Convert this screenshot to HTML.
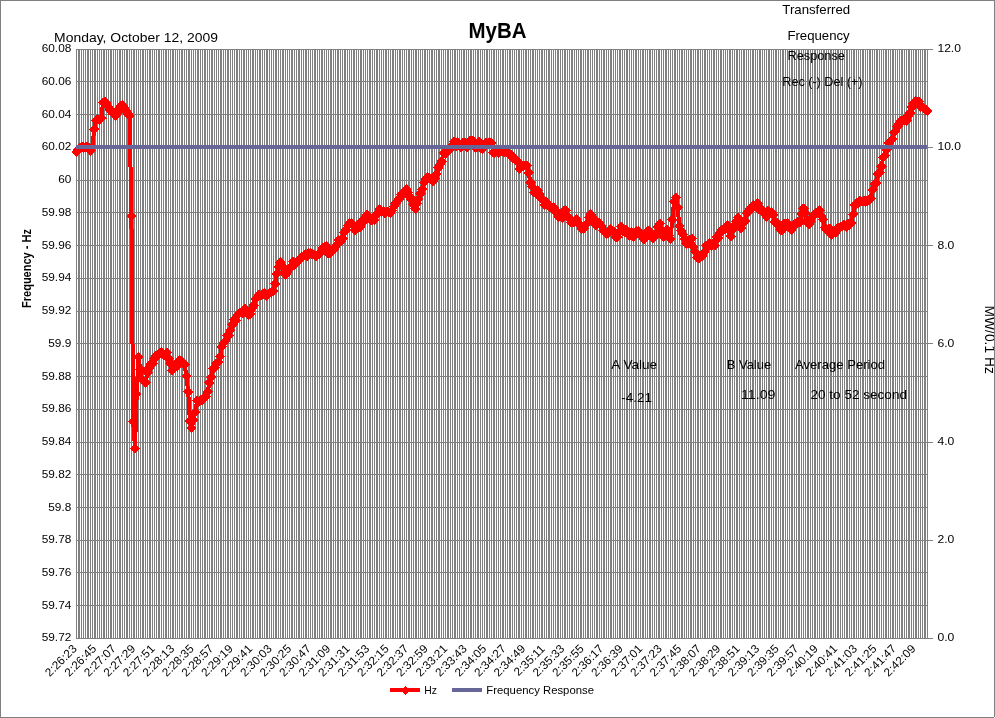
<!DOCTYPE html>
<html><head><meta charset="utf-8"><title>MyBA</title>
<style>html,body{margin:0;padding:0;background:#fff;overflow:hidden}body{width:995px;height:718px;position:relative;font-family:"Liberation Sans",sans-serif}</style>
</head><body>
<svg width="995" height="718" viewBox="0 0 995 718" style="position:absolute;left:0;top:0;will-change:transform">
<rect x="0" y="0" width="995" height="718" fill="#fff"/>
<path d="M76 49h1v589h-1zM78 49h1v589h-1zM79 49h1v589h-1zM81 49h1v589h-1zM83 49h1v589h-1zM85 49h1v589h-1zM87 49h1v589h-1zM88 49h1v589h-1zM90 49h1v589h-1zM92 49h1v589h-1zM94 49h1v589h-1zM95 49h1v589h-1zM97 49h1v589h-1zM99 49h1v589h-1zM101 49h1v589h-1zM103 49h1v589h-1zM104 49h1v589h-1zM106 49h1v589h-1zM108 49h1v589h-1zM110 49h1v589h-1zM111 49h1v589h-1zM113 49h1v589h-1zM115 49h1v589h-1zM117 49h1v589h-1zM119 49h1v589h-1zM120 49h1v589h-1zM122 49h1v589h-1zM124 49h1v589h-1zM126 49h1v589h-1zM127 49h1v589h-1zM129 49h1v589h-1zM131 49h1v589h-1zM133 49h1v589h-1zM134 49h1v589h-1zM136 49h1v589h-1zM138 49h1v589h-1zM140 49h1v589h-1zM142 49h1v589h-1zM143 49h1v589h-1zM145 49h1v589h-1zM147 49h1v589h-1zM149 49h1v589h-1zM150 49h1v589h-1zM152 49h1v589h-1zM154 49h1v589h-1zM156 49h1v589h-1zM158 49h1v589h-1zM159 49h1v589h-1zM161 49h1v589h-1zM163 49h1v589h-1zM165 49h1v589h-1zM166 49h1v589h-1zM168 49h1v589h-1zM170 49h1v589h-1zM172 49h1v589h-1zM173 49h1v589h-1zM175 49h1v589h-1zM177 49h1v589h-1zM179 49h1v589h-1zM181 49h1v589h-1zM182 49h1v589h-1zM184 49h1v589h-1zM186 49h1v589h-1zM188 49h1v589h-1zM189 49h1v589h-1zM191 49h1v589h-1zM193 49h1v589h-1zM195 49h1v589h-1zM197 49h1v589h-1zM198 49h1v589h-1zM200 49h1v589h-1zM202 49h1v589h-1zM204 49h1v589h-1zM205 49h1v589h-1zM207 49h1v589h-1zM209 49h1v589h-1zM211 49h1v589h-1zM212 49h1v589h-1zM214 49h1v589h-1zM216 49h1v589h-1zM218 49h1v589h-1zM220 49h1v589h-1zM221 49h1v589h-1zM223 49h1v589h-1zM225 49h1v589h-1zM227 49h1v589h-1zM228 49h1v589h-1zM230 49h1v589h-1zM232 49h1v589h-1zM234 49h1v589h-1zM236 49h1v589h-1zM237 49h1v589h-1zM239 49h1v589h-1zM241 49h1v589h-1zM243 49h1v589h-1zM244 49h1v589h-1zM246 49h1v589h-1zM248 49h1v589h-1zM250 49h1v589h-1zM252 49h1v589h-1zM253 49h1v589h-1zM255 49h1v589h-1zM257 49h1v589h-1zM259 49h1v589h-1zM260 49h1v589h-1zM262 49h1v589h-1zM264 49h1v589h-1zM266 49h1v589h-1zM267 49h1v589h-1zM269 49h1v589h-1zM271 49h1v589h-1zM273 49h1v589h-1zM275 49h1v589h-1zM276 49h1v589h-1zM278 49h1v589h-1zM280 49h1v589h-1zM282 49h1v589h-1zM283 49h1v589h-1zM285 49h1v589h-1zM287 49h1v589h-1zM289 49h1v589h-1zM291 49h1v589h-1zM292 49h1v589h-1zM294 49h1v589h-1zM296 49h1v589h-1zM298 49h1v589h-1zM299 49h1v589h-1zM301 49h1v589h-1zM303 49h1v589h-1zM305 49h1v589h-1zM306 49h1v589h-1zM308 49h1v589h-1zM310 49h1v589h-1zM312 49h1v589h-1zM314 49h1v589h-1zM315 49h1v589h-1zM317 49h1v589h-1zM319 49h1v589h-1zM321 49h1v589h-1zM322 49h1v589h-1zM324 49h1v589h-1zM326 49h1v589h-1zM328 49h1v589h-1zM330 49h1v589h-1zM331 49h1v589h-1zM333 49h1v589h-1zM335 49h1v589h-1zM337 49h1v589h-1zM338 49h1v589h-1zM340 49h1v589h-1zM342 49h1v589h-1zM344 49h1v589h-1zM345 49h1v589h-1zM347 49h1v589h-1zM349 49h1v589h-1zM351 49h1v589h-1zM353 49h1v589h-1zM354 49h1v589h-1zM356 49h1v589h-1zM358 49h1v589h-1zM360 49h1v589h-1zM361 49h1v589h-1zM363 49h1v589h-1zM365 49h1v589h-1zM367 49h1v589h-1zM369 49h1v589h-1zM370 49h1v589h-1zM372 49h1v589h-1zM374 49h1v589h-1zM376 49h1v589h-1zM377 49h1v589h-1zM379 49h1v589h-1zM381 49h1v589h-1zM383 49h1v589h-1zM385 49h1v589h-1zM386 49h1v589h-1zM388 49h1v589h-1zM390 49h1v589h-1zM392 49h1v589h-1zM393 49h1v589h-1zM395 49h1v589h-1zM397 49h1v589h-1zM399 49h1v589h-1zM400 49h1v589h-1zM402 49h1v589h-1zM404 49h1v589h-1zM406 49h1v589h-1zM408 49h1v589h-1zM409 49h1v589h-1zM411 49h1v589h-1zM413 49h1v589h-1zM415 49h1v589h-1zM416 49h1v589h-1zM418 49h1v589h-1zM420 49h1v589h-1zM422 49h1v589h-1zM424 49h1v589h-1zM425 49h1v589h-1zM427 49h1v589h-1zM429 49h1v589h-1zM431 49h1v589h-1zM432 49h1v589h-1zM434 49h1v589h-1zM436 49h1v589h-1zM438 49h1v589h-1zM439 49h1v589h-1zM441 49h1v589h-1zM443 49h1v589h-1zM445 49h1v589h-1zM447 49h1v589h-1zM448 49h1v589h-1zM450 49h1v589h-1zM452 49h1v589h-1zM454 49h1v589h-1zM455 49h1v589h-1zM457 49h1v589h-1zM459 49h1v589h-1zM461 49h1v589h-1zM463 49h1v589h-1zM464 49h1v589h-1zM466 49h1v589h-1zM468 49h1v589h-1zM470 49h1v589h-1zM471 49h1v589h-1zM473 49h1v589h-1zM475 49h1v589h-1zM477 49h1v589h-1zM478 49h1v589h-1zM480 49h1v589h-1zM482 49h1v589h-1zM484 49h1v589h-1zM486 49h1v589h-1zM487 49h1v589h-1zM489 49h1v589h-1zM491 49h1v589h-1zM493 49h1v589h-1zM494 49h1v589h-1zM496 49h1v589h-1zM498 49h1v589h-1zM500 49h1v589h-1zM502 49h1v589h-1zM503 49h1v589h-1zM505 49h1v589h-1zM507 49h1v589h-1zM509 49h1v589h-1zM510 49h1v589h-1zM512 49h1v589h-1zM514 49h1v589h-1zM516 49h1v589h-1zM518 49h1v589h-1zM519 49h1v589h-1zM521 49h1v589h-1zM523 49h1v589h-1zM525 49h1v589h-1zM526 49h1v589h-1zM528 49h1v589h-1zM530 49h1v589h-1zM532 49h1v589h-1zM533 49h1v589h-1zM535 49h1v589h-1zM537 49h1v589h-1zM539 49h1v589h-1zM541 49h1v589h-1zM542 49h1v589h-1zM544 49h1v589h-1zM546 49h1v589h-1zM548 49h1v589h-1zM549 49h1v589h-1zM551 49h1v589h-1zM553 49h1v589h-1zM555 49h1v589h-1zM557 49h1v589h-1zM558 49h1v589h-1zM560 49h1v589h-1zM562 49h1v589h-1zM564 49h1v589h-1zM565 49h1v589h-1zM567 49h1v589h-1zM569 49h1v589h-1zM571 49h1v589h-1zM572 49h1v589h-1zM574 49h1v589h-1zM576 49h1v589h-1zM578 49h1v589h-1zM580 49h1v589h-1zM581 49h1v589h-1zM583 49h1v589h-1zM585 49h1v589h-1zM587 49h1v589h-1zM588 49h1v589h-1zM590 49h1v589h-1zM592 49h1v589h-1zM594 49h1v589h-1zM596 49h1v589h-1zM597 49h1v589h-1zM599 49h1v589h-1zM601 49h1v589h-1zM603 49h1v589h-1zM604 49h1v589h-1zM606 49h1v589h-1zM608 49h1v589h-1zM610 49h1v589h-1zM611 49h1v589h-1zM613 49h1v589h-1zM615 49h1v589h-1zM617 49h1v589h-1zM619 49h1v589h-1zM620 49h1v589h-1zM622 49h1v589h-1zM624 49h1v589h-1zM626 49h1v589h-1zM627 49h1v589h-1zM629 49h1v589h-1zM631 49h1v589h-1zM633 49h1v589h-1zM635 49h1v589h-1zM636 49h1v589h-1zM638 49h1v589h-1zM640 49h1v589h-1zM642 49h1v589h-1zM643 49h1v589h-1zM645 49h1v589h-1zM647 49h1v589h-1zM649 49h1v589h-1zM650 49h1v589h-1zM652 49h1v589h-1zM654 49h1v589h-1zM656 49h1v589h-1zM658 49h1v589h-1zM659 49h1v589h-1zM661 49h1v589h-1zM663 49h1v589h-1zM665 49h1v589h-1zM666 49h1v589h-1zM668 49h1v589h-1zM670 49h1v589h-1zM672 49h1v589h-1zM674 49h1v589h-1zM675 49h1v589h-1zM677 49h1v589h-1zM679 49h1v589h-1zM681 49h1v589h-1zM682 49h1v589h-1zM684 49h1v589h-1zM686 49h1v589h-1zM688 49h1v589h-1zM690 49h1v589h-1zM691 49h1v589h-1zM693 49h1v589h-1zM695 49h1v589h-1zM697 49h1v589h-1zM698 49h1v589h-1zM700 49h1v589h-1zM702 49h1v589h-1zM704 49h1v589h-1zM705 49h1v589h-1zM707 49h1v589h-1zM709 49h1v589h-1zM711 49h1v589h-1zM713 49h1v589h-1zM714 49h1v589h-1zM716 49h1v589h-1zM718 49h1v589h-1zM720 49h1v589h-1zM721 49h1v589h-1zM723 49h1v589h-1zM725 49h1v589h-1zM727 49h1v589h-1zM729 49h1v589h-1zM730 49h1v589h-1zM732 49h1v589h-1zM734 49h1v589h-1zM736 49h1v589h-1zM737 49h1v589h-1zM739 49h1v589h-1zM741 49h1v589h-1zM743 49h1v589h-1zM744 49h1v589h-1zM746 49h1v589h-1zM748 49h1v589h-1zM750 49h1v589h-1zM752 49h1v589h-1zM753 49h1v589h-1zM755 49h1v589h-1zM757 49h1v589h-1zM759 49h1v589h-1zM760 49h1v589h-1zM762 49h1v589h-1zM764 49h1v589h-1zM766 49h1v589h-1zM768 49h1v589h-1zM769 49h1v589h-1zM771 49h1v589h-1zM773 49h1v589h-1zM775 49h1v589h-1zM776 49h1v589h-1zM778 49h1v589h-1zM780 49h1v589h-1zM782 49h1v589h-1zM783 49h1v589h-1zM785 49h1v589h-1zM787 49h1v589h-1zM789 49h1v589h-1zM791 49h1v589h-1zM792 49h1v589h-1zM794 49h1v589h-1zM796 49h1v589h-1zM798 49h1v589h-1zM799 49h1v589h-1zM801 49h1v589h-1zM803 49h1v589h-1zM805 49h1v589h-1zM807 49h1v589h-1zM808 49h1v589h-1zM810 49h1v589h-1zM812 49h1v589h-1zM814 49h1v589h-1zM815 49h1v589h-1zM817 49h1v589h-1zM819 49h1v589h-1zM821 49h1v589h-1zM823 49h1v589h-1zM824 49h1v589h-1zM826 49h1v589h-1zM828 49h1v589h-1zM830 49h1v589h-1zM831 49h1v589h-1zM833 49h1v589h-1zM835 49h1v589h-1zM837 49h1v589h-1zM838 49h1v589h-1zM840 49h1v589h-1zM842 49h1v589h-1zM844 49h1v589h-1zM846 49h1v589h-1zM847 49h1v589h-1zM849 49h1v589h-1zM851 49h1v589h-1zM853 49h1v589h-1zM854 49h1v589h-1zM856 49h1v589h-1zM858 49h1v589h-1zM860 49h1v589h-1zM862 49h1v589h-1zM863 49h1v589h-1zM865 49h1v589h-1zM867 49h1v589h-1zM869 49h1v589h-1zM870 49h1v589h-1zM872 49h1v589h-1zM874 49h1v589h-1zM876 49h1v589h-1zM877 49h1v589h-1zM879 49h1v589h-1zM881 49h1v589h-1zM883 49h1v589h-1zM885 49h1v589h-1zM886 49h1v589h-1zM888 49h1v589h-1zM890 49h1v589h-1zM892 49h1v589h-1zM893 49h1v589h-1zM895 49h1v589h-1zM897 49h1v589h-1zM899 49h1v589h-1zM901 49h1v589h-1zM902 49h1v589h-1zM904 49h1v589h-1zM906 49h1v589h-1zM908 49h1v589h-1zM909 49h1v589h-1zM911 49h1v589h-1zM913 49h1v589h-1zM915 49h1v589h-1zM916 49h1v589h-1zM918 49h1v589h-1zM920 49h1v589h-1zM922 49h1v589h-1zM924 49h1v589h-1zM925 49h1v589h-1zM927 49h1v589h-1z" fill="#808080" shape-rendering="crispEdges"/>
<path d="M76 49h852v1h-852zM76 81h852v1h-852zM76 114h852v1h-852zM76 147h852v1h-852zM76 180h852v1h-852zM76 212h852v1h-852zM76 245h852v1h-852zM76 278h852v1h-852zM76 311h852v1h-852zM76 343h852v1h-852zM76 376h852v1h-852zM76 409h852v1h-852zM76 442h852v1h-852zM76 474h852v1h-852zM76 507h852v1h-852zM76 540h852v1h-852zM76 572h852v1h-852zM76 605h852v1h-852zM76 638h852v1h-852z" fill="#808080" shape-rendering="crispEdges"/>
<path d="M928 49h5v1h-5zM928 147h5v1h-5zM928 245h5v1h-5zM928 343h5v1h-5zM928 442h5v1h-5zM928 540h5v1h-5zM928 638h5v1h-5z" fill="#808080" shape-rendering="crispEdges"/>
<polyline points="76.5,152.0 78.2,150.0 80.0,147.5 81.8,146.8 83.5,147.5 85.3,147.5 87.1,147.0 88.9,148.0 90.6,150.6 92.4,147.0 94.2,129.4 96.0,120.5 97.7,119.5 99.5,120.0 101.3,118.5 103.0,102.5 104.8,101.5 106.6,103.0 108.4,107.0 110.1,110.0 111.9,112.5 113.7,114.5 115.5,115.5 117.2,113.0 119.0,109.0 120.8,106.0 122.6,105.5 124.3,108.0 126.1,111.0 127.9,114.0 129.6,116.0 131.4,216.0 133.2,422.0 135.0,448.5 136.7,394.0 138.5,357.0 140.3,369.5 142.1,379.7 143.8,381.3 145.6,382.7 147.4,372.5 149.2,367.7 150.9,363.9 152.7,363.3 154.5,358.6 156.2,355.6 158.0,355.3 159.8,352.7 161.6,351.9 163.3,354.7 165.1,354.6 166.9,352.5 168.7,358.8 170.4,363.4 172.2,370.5 174.0,368.6 175.8,364.2 177.5,366.3 179.3,360.2 181.1,360.5 182.8,362.7 184.6,364.6 186.4,376.2 188.2,391.7 189.9,421.2 191.7,428.1 193.5,420.2 195.3,412.2 197.0,400.4 198.8,401.7 200.6,400.3 202.4,399.5 204.1,398.1 205.9,396.9 207.7,391.6 209.4,382.7 211.2,377.1 213.0,368.3 214.8,367.9 216.5,363.7 218.3,362.1 220.1,356.6 221.9,346.9 223.6,342.7 225.4,341.4 227.2,335.3 229.0,335.3 230.7,330.1 232.5,324.7 234.3,319.3 236.0,320.6 237.8,314.6 239.6,313.1 241.4,312.4 243.1,313.6 244.9,308.7 246.7,312.5 248.5,314.7 250.2,313.9 252.0,308.8 253.8,305.4 255.6,298.8 257.3,297.4 259.1,294.9 260.9,295.7 262.6,294.3 264.4,293.0 266.2,295.8 268.0,294.4 269.7,292.6 271.5,292.3 273.3,291.1 275.1,283.9 276.8,273.7 278.6,266.8 280.4,262.3 282.2,266.4 283.9,272.5 285.7,274.7 287.5,271.9 289.2,269.5 291.0,266.8 292.8,261.5 294.6,264.7 296.3,262.4 298.1,261.4 299.9,259.6 301.7,256.8 303.4,256.4 305.2,254.3 307.0,256.7 308.8,253.1 310.5,253.2 312.3,254.5 314.1,254.8 315.8,256.3 317.6,255.2 319.4,253.8 321.2,251.5 322.9,248.2 324.7,246.7 326.5,246.3 328.3,253.4 330.0,253.7 331.8,251.6 333.6,249.4 335.4,247.2 337.1,244.4 338.9,240.2 340.7,241.2 342.4,238.5 344.2,232.2 346.0,230.0 347.8,225.5 349.5,223.3 351.3,223.1 353.1,225.1 354.9,230.6 356.6,226.4 358.4,223.9 360.2,227.3 362.0,223.2 363.7,219.2 365.5,219.6 367.3,214.9 369.0,217.3 370.8,220.3 372.6,220.1 374.4,219.7 376.1,214.8 377.9,212.9 379.7,209.3 381.5,211.5 383.2,211.2 385.0,213.6 386.8,211.9 388.6,212.2 390.3,213.1 392.1,210.5 393.9,206.6 395.6,203.5 397.4,201.0 399.2,198.9 401.0,194.4 402.7,194.5 404.5,192.0 406.3,189.3 408.1,192.4 409.8,196.8 411.6,199.6 413.4,204.8 415.2,209.0 416.9,203.7 418.7,199.0 420.5,193.4 422.2,189.2 424.0,182.7 425.8,179.1 427.6,177.6 429.3,178.3 431.1,179.2 432.9,181.1 434.7,178.5 436.4,174.1 438.2,168.0 440.0,164.8 441.7,161.4 443.5,153.2 445.3,153.6 447.1,152.6 448.8,149.5 450.6,148.5 452.4,145.2 454.2,141.8 455.9,146.5 457.7,142.3 459.5,146.0 461.3,147.5 463.0,142.6 464.8,142.7 466.6,147.3 468.3,145.4 470.1,140.7 471.9,140.5 473.7,141.0 475.4,147.6 477.2,147.1 479.0,141.9 480.8,147.7 482.5,148.7 484.3,145.8 486.1,143.0 487.9,144.5 489.6,142.0 491.4,143.0 493.2,152.3 494.9,152.8 496.7,151.2 498.5,152.8 500.3,149.6 502.0,151.7 503.8,152.5 505.6,150.6 507.4,152.4 509.1,154.1 510.9,155.1 512.7,158.4 514.5,157.9 516.2,160.8 518.0,161.8 519.8,168.8 521.5,166.7 523.3,166.2 525.1,165.6 526.9,165.9 528.6,172.7 530.4,182.5 532.2,187.0 534.0,192.7 535.7,192.9 537.5,190.4 539.3,194.1 541.1,198.1 542.8,199.4 544.6,204.8 546.4,202.3 548.1,204.9 549.9,207.5 551.7,207.7 553.5,207.6 555.2,210.1 557.0,213.0 558.8,217.0 560.6,215.9 562.3,217.6 564.1,210.7 565.9,210.2 567.7,216.8 569.4,218.7 571.2,222.3 573.0,222.5 574.7,222.0 576.5,219.3 578.3,223.3 580.1,225.7 581.8,228.8 583.6,228.8 585.4,225.1 587.2,223.2 588.9,217.4 590.7,214.3 592.5,216.9 594.3,221.5 596.0,225.1 597.8,222.2 599.6,223.2 601.3,225.8 603.1,230.6 604.9,232.0 606.7,233.6 608.4,233.3 610.2,229.1 612.0,230.3 613.8,231.6 615.5,237.2 617.3,237.5 619.1,232.7 620.9,226.5 622.6,231.1 624.4,232.1 626.2,229.9 627.9,234.7 629.7,235.9 631.5,232.3 633.3,237.0 635.0,234.0 636.8,231.1 638.6,231.4 640.4,234.6 642.1,234.9 643.9,239.6 645.7,236.1 647.5,231.1 649.2,230.8 651.0,233.9 652.8,238.6 654.5,236.4 656.3,233.5 658.1,227.0 659.9,223.9 661.6,230.2 663.4,236.5 665.2,234.4 667.0,230.1 668.7,235.9 670.5,239.0 672.3,219.8 674.1,201.2 675.8,197.6 677.6,207.3 679.4,226.0 681.1,230.9 682.9,234.3 684.7,238.8 686.5,243.6 688.2,242.9 690.0,239.5 691.8,238.6 693.6,247.1 695.3,251.8 697.1,257.5 698.9,258.6 700.7,255.6 702.4,256.3 704.2,252.1 706.0,245.7 707.7,246.2 709.5,243.0 711.3,245.7 713.1,243.4 714.8,245.1 716.6,237.3 718.4,238.4 720.2,232.8 721.9,229.9 723.7,229.0 725.5,229.1 727.3,225.3 729.0,230.2 730.8,236.4 732.6,230.2 734.3,225.0 736.1,221.4 737.9,217.7 739.7,223.5 741.4,228.3 743.2,223.4 745.0,221.1 746.8,213.6 748.5,211.7 750.3,208.5 752.1,208.0 753.9,205.2 755.6,205.7 757.4,203.6 759.2,209.2 760.9,210.1 762.7,210.1 764.5,213.7 766.3,217.1 768.0,210.9 769.8,213.4 771.6,212.4 773.4,215.0 775.1,222.0 776.9,222.8 778.7,226.0 780.5,229.6 782.2,230.1 784.0,223.7 785.8,223.6 787.5,223.4 789.3,227.2 791.1,229.8 792.9,227.5 794.6,223.9 796.4,223.1 798.2,221.8 800.0,222.1 801.7,214.0 803.5,208.7 805.3,212.8 807.0,220.9 808.8,224.3 810.6,221.4 812.4,216.9 814.1,214.4 815.9,213.1 817.7,212.4 819.5,210.5 821.2,216.0 823.0,219.3 824.8,227.6 826.6,229.5 828.3,229.0 830.1,229.1 831.9,234.8 833.6,232.8 835.4,232.8 837.2,228.1 839.0,228.0 840.7,227.1 842.5,225.9 844.3,224.7 846.1,226.8 847.8,223.9 849.6,224.6 851.4,222.9 853.2,214.4 854.9,205.2 856.7,203.2 858.5,203.0 860.2,201.0 862.0,201.7 863.8,200.8 865.6,201.5 867.3,200.6 869.1,200.6 870.9,198.3 872.7,189.6 874.4,184.0 876.2,183.2 878.0,174.2 879.8,172.5 881.5,166.4 883.3,157.4 885.1,155.7 886.8,149.8 888.6,143.3 890.4,141.3 892.2,139.1 893.9,132.7 895.7,131.1 897.5,126.4 899.3,123.6 901.0,120.7 902.8,120.8 904.6,119.5 906.4,120.6 908.1,116.2 909.9,113.1 911.7,107.4 913.4,103.6 915.2,101.4 917.0,102.2 918.8,102.0 920.5,107.3 922.3,107.1 924.1,108.7 925.9,109.8 927.5,111.0" fill="none" stroke="#ff0000" stroke-width="4" stroke-linejoin="round" shape-rendering="crispEdges"/>
<path d="M76.5 146.8l5.2 5.2l-5.2 5.2l-5.2 -5.2zM78.2 144.8l5.2 5.2l-5.2 5.2l-5.2 -5.2zM80.0 142.3l5.2 5.2l-5.2 5.2l-5.2 -5.2zM81.8 141.6l5.2 5.2l-5.2 5.2l-5.2 -5.2zM83.5 142.3l5.2 5.2l-5.2 5.2l-5.2 -5.2zM85.3 142.3l5.2 5.2l-5.2 5.2l-5.2 -5.2zM87.1 141.8l5.2 5.2l-5.2 5.2l-5.2 -5.2zM88.9 142.8l5.2 5.2l-5.2 5.2l-5.2 -5.2zM90.6 145.4l5.2 5.2l-5.2 5.2l-5.2 -5.2zM92.4 141.8l5.2 5.2l-5.2 5.2l-5.2 -5.2zM94.2 124.2l5.2 5.2l-5.2 5.2l-5.2 -5.2zM96.0 115.3l5.2 5.2l-5.2 5.2l-5.2 -5.2zM97.7 114.3l5.2 5.2l-5.2 5.2l-5.2 -5.2zM99.5 114.8l5.2 5.2l-5.2 5.2l-5.2 -5.2zM101.3 113.3l5.2 5.2l-5.2 5.2l-5.2 -5.2zM103.0 97.3l5.2 5.2l-5.2 5.2l-5.2 -5.2zM104.8 96.3l5.2 5.2l-5.2 5.2l-5.2 -5.2zM106.6 97.8l5.2 5.2l-5.2 5.2l-5.2 -5.2zM108.4 101.8l5.2 5.2l-5.2 5.2l-5.2 -5.2zM110.1 104.8l5.2 5.2l-5.2 5.2l-5.2 -5.2zM111.9 107.3l5.2 5.2l-5.2 5.2l-5.2 -5.2zM113.7 109.3l5.2 5.2l-5.2 5.2l-5.2 -5.2zM115.5 110.3l5.2 5.2l-5.2 5.2l-5.2 -5.2zM117.2 107.8l5.2 5.2l-5.2 5.2l-5.2 -5.2zM119.0 103.8l5.2 5.2l-5.2 5.2l-5.2 -5.2zM120.8 100.8l5.2 5.2l-5.2 5.2l-5.2 -5.2zM122.6 100.3l5.2 5.2l-5.2 5.2l-5.2 -5.2zM124.3 102.8l5.2 5.2l-5.2 5.2l-5.2 -5.2zM126.1 105.8l5.2 5.2l-5.2 5.2l-5.2 -5.2zM127.9 108.8l5.2 5.2l-5.2 5.2l-5.2 -5.2zM129.6 110.8l5.2 5.2l-5.2 5.2l-5.2 -5.2zM131.4 210.8l5.2 5.2l-5.2 5.2l-5.2 -5.2zM133.2 416.8l5.2 5.2l-5.2 5.2l-5.2 -5.2zM135.0 443.3l5.2 5.2l-5.2 5.2l-5.2 -5.2zM136.7 388.8l5.2 5.2l-5.2 5.2l-5.2 -5.2zM138.5 351.8l5.2 5.2l-5.2 5.2l-5.2 -5.2zM140.3 364.3l5.2 5.2l-5.2 5.2l-5.2 -5.2zM142.1 374.5l5.2 5.2l-5.2 5.2l-5.2 -5.2zM143.8 376.1l5.2 5.2l-5.2 5.2l-5.2 -5.2zM145.6 377.5l5.2 5.2l-5.2 5.2l-5.2 -5.2zM147.4 367.3l5.2 5.2l-5.2 5.2l-5.2 -5.2zM149.2 362.5l5.2 5.2l-5.2 5.2l-5.2 -5.2zM150.9 358.7l5.2 5.2l-5.2 5.2l-5.2 -5.2zM152.7 358.1l5.2 5.2l-5.2 5.2l-5.2 -5.2zM154.5 353.4l5.2 5.2l-5.2 5.2l-5.2 -5.2zM156.2 350.4l5.2 5.2l-5.2 5.2l-5.2 -5.2zM158.0 350.1l5.2 5.2l-5.2 5.2l-5.2 -5.2zM159.8 347.5l5.2 5.2l-5.2 5.2l-5.2 -5.2zM161.6 346.7l5.2 5.2l-5.2 5.2l-5.2 -5.2zM163.3 349.5l5.2 5.2l-5.2 5.2l-5.2 -5.2zM165.1 349.4l5.2 5.2l-5.2 5.2l-5.2 -5.2zM166.9 347.3l5.2 5.2l-5.2 5.2l-5.2 -5.2zM168.7 353.6l5.2 5.2l-5.2 5.2l-5.2 -5.2zM170.4 358.2l5.2 5.2l-5.2 5.2l-5.2 -5.2zM172.2 365.3l5.2 5.2l-5.2 5.2l-5.2 -5.2zM174.0 363.4l5.2 5.2l-5.2 5.2l-5.2 -5.2zM175.8 359.0l5.2 5.2l-5.2 5.2l-5.2 -5.2zM177.5 361.1l5.2 5.2l-5.2 5.2l-5.2 -5.2zM179.3 355.0l5.2 5.2l-5.2 5.2l-5.2 -5.2zM181.1 355.3l5.2 5.2l-5.2 5.2l-5.2 -5.2zM182.8 357.5l5.2 5.2l-5.2 5.2l-5.2 -5.2zM184.6 359.4l5.2 5.2l-5.2 5.2l-5.2 -5.2zM186.4 371.0l5.2 5.2l-5.2 5.2l-5.2 -5.2zM188.2 386.5l5.2 5.2l-5.2 5.2l-5.2 -5.2zM189.9 416.0l5.2 5.2l-5.2 5.2l-5.2 -5.2zM191.7 422.9l5.2 5.2l-5.2 5.2l-5.2 -5.2zM193.5 415.0l5.2 5.2l-5.2 5.2l-5.2 -5.2zM195.3 407.0l5.2 5.2l-5.2 5.2l-5.2 -5.2zM197.0 395.2l5.2 5.2l-5.2 5.2l-5.2 -5.2zM198.8 396.5l5.2 5.2l-5.2 5.2l-5.2 -5.2zM200.6 395.1l5.2 5.2l-5.2 5.2l-5.2 -5.2zM202.4 394.3l5.2 5.2l-5.2 5.2l-5.2 -5.2zM204.1 392.9l5.2 5.2l-5.2 5.2l-5.2 -5.2zM205.9 391.7l5.2 5.2l-5.2 5.2l-5.2 -5.2zM207.7 386.4l5.2 5.2l-5.2 5.2l-5.2 -5.2zM209.4 377.5l5.2 5.2l-5.2 5.2l-5.2 -5.2zM211.2 371.9l5.2 5.2l-5.2 5.2l-5.2 -5.2zM213.0 363.1l5.2 5.2l-5.2 5.2l-5.2 -5.2zM214.8 362.7l5.2 5.2l-5.2 5.2l-5.2 -5.2zM216.5 358.5l5.2 5.2l-5.2 5.2l-5.2 -5.2zM218.3 356.9l5.2 5.2l-5.2 5.2l-5.2 -5.2zM220.1 351.4l5.2 5.2l-5.2 5.2l-5.2 -5.2zM221.9 341.7l5.2 5.2l-5.2 5.2l-5.2 -5.2zM223.6 337.5l5.2 5.2l-5.2 5.2l-5.2 -5.2zM225.4 336.2l5.2 5.2l-5.2 5.2l-5.2 -5.2zM227.2 330.1l5.2 5.2l-5.2 5.2l-5.2 -5.2zM229.0 330.1l5.2 5.2l-5.2 5.2l-5.2 -5.2zM230.7 324.9l5.2 5.2l-5.2 5.2l-5.2 -5.2zM232.5 319.5l5.2 5.2l-5.2 5.2l-5.2 -5.2zM234.3 314.1l5.2 5.2l-5.2 5.2l-5.2 -5.2zM236.0 315.4l5.2 5.2l-5.2 5.2l-5.2 -5.2zM237.8 309.4l5.2 5.2l-5.2 5.2l-5.2 -5.2zM239.6 307.9l5.2 5.2l-5.2 5.2l-5.2 -5.2zM241.4 307.2l5.2 5.2l-5.2 5.2l-5.2 -5.2zM243.1 308.4l5.2 5.2l-5.2 5.2l-5.2 -5.2zM244.9 303.5l5.2 5.2l-5.2 5.2l-5.2 -5.2zM246.7 307.3l5.2 5.2l-5.2 5.2l-5.2 -5.2zM248.5 309.5l5.2 5.2l-5.2 5.2l-5.2 -5.2zM250.2 308.7l5.2 5.2l-5.2 5.2l-5.2 -5.2zM252.0 303.6l5.2 5.2l-5.2 5.2l-5.2 -5.2zM253.8 300.2l5.2 5.2l-5.2 5.2l-5.2 -5.2zM255.6 293.6l5.2 5.2l-5.2 5.2l-5.2 -5.2zM257.3 292.2l5.2 5.2l-5.2 5.2l-5.2 -5.2zM259.1 289.7l5.2 5.2l-5.2 5.2l-5.2 -5.2zM260.9 290.5l5.2 5.2l-5.2 5.2l-5.2 -5.2zM262.6 289.1l5.2 5.2l-5.2 5.2l-5.2 -5.2zM264.4 287.8l5.2 5.2l-5.2 5.2l-5.2 -5.2zM266.2 290.6l5.2 5.2l-5.2 5.2l-5.2 -5.2zM268.0 289.2l5.2 5.2l-5.2 5.2l-5.2 -5.2zM269.7 287.4l5.2 5.2l-5.2 5.2l-5.2 -5.2zM271.5 287.1l5.2 5.2l-5.2 5.2l-5.2 -5.2zM273.3 285.9l5.2 5.2l-5.2 5.2l-5.2 -5.2zM275.1 278.7l5.2 5.2l-5.2 5.2l-5.2 -5.2zM276.8 268.5l5.2 5.2l-5.2 5.2l-5.2 -5.2zM278.6 261.6l5.2 5.2l-5.2 5.2l-5.2 -5.2zM280.4 257.1l5.2 5.2l-5.2 5.2l-5.2 -5.2zM282.2 261.2l5.2 5.2l-5.2 5.2l-5.2 -5.2zM283.9 267.3l5.2 5.2l-5.2 5.2l-5.2 -5.2zM285.7 269.5l5.2 5.2l-5.2 5.2l-5.2 -5.2zM287.5 266.7l5.2 5.2l-5.2 5.2l-5.2 -5.2zM289.2 264.3l5.2 5.2l-5.2 5.2l-5.2 -5.2zM291.0 261.6l5.2 5.2l-5.2 5.2l-5.2 -5.2zM292.8 256.3l5.2 5.2l-5.2 5.2l-5.2 -5.2zM294.6 259.5l5.2 5.2l-5.2 5.2l-5.2 -5.2zM296.3 257.2l5.2 5.2l-5.2 5.2l-5.2 -5.2zM298.1 256.2l5.2 5.2l-5.2 5.2l-5.2 -5.2zM299.9 254.4l5.2 5.2l-5.2 5.2l-5.2 -5.2zM301.7 251.6l5.2 5.2l-5.2 5.2l-5.2 -5.2zM303.4 251.2l5.2 5.2l-5.2 5.2l-5.2 -5.2zM305.2 249.1l5.2 5.2l-5.2 5.2l-5.2 -5.2zM307.0 251.5l5.2 5.2l-5.2 5.2l-5.2 -5.2zM308.8 247.9l5.2 5.2l-5.2 5.2l-5.2 -5.2zM310.5 248.0l5.2 5.2l-5.2 5.2l-5.2 -5.2zM312.3 249.3l5.2 5.2l-5.2 5.2l-5.2 -5.2zM314.1 249.6l5.2 5.2l-5.2 5.2l-5.2 -5.2zM315.8 251.1l5.2 5.2l-5.2 5.2l-5.2 -5.2zM317.6 250.0l5.2 5.2l-5.2 5.2l-5.2 -5.2zM319.4 248.6l5.2 5.2l-5.2 5.2l-5.2 -5.2zM321.2 246.3l5.2 5.2l-5.2 5.2l-5.2 -5.2zM322.9 243.0l5.2 5.2l-5.2 5.2l-5.2 -5.2zM324.7 241.5l5.2 5.2l-5.2 5.2l-5.2 -5.2zM326.5 241.1l5.2 5.2l-5.2 5.2l-5.2 -5.2zM328.3 248.2l5.2 5.2l-5.2 5.2l-5.2 -5.2zM330.0 248.5l5.2 5.2l-5.2 5.2l-5.2 -5.2zM331.8 246.4l5.2 5.2l-5.2 5.2l-5.2 -5.2zM333.6 244.2l5.2 5.2l-5.2 5.2l-5.2 -5.2zM335.4 242.0l5.2 5.2l-5.2 5.2l-5.2 -5.2zM337.1 239.2l5.2 5.2l-5.2 5.2l-5.2 -5.2zM338.9 235.0l5.2 5.2l-5.2 5.2l-5.2 -5.2zM340.7 236.0l5.2 5.2l-5.2 5.2l-5.2 -5.2zM342.4 233.3l5.2 5.2l-5.2 5.2l-5.2 -5.2zM344.2 227.0l5.2 5.2l-5.2 5.2l-5.2 -5.2zM346.0 224.8l5.2 5.2l-5.2 5.2l-5.2 -5.2zM347.8 220.3l5.2 5.2l-5.2 5.2l-5.2 -5.2zM349.5 218.1l5.2 5.2l-5.2 5.2l-5.2 -5.2zM351.3 217.9l5.2 5.2l-5.2 5.2l-5.2 -5.2zM353.1 219.9l5.2 5.2l-5.2 5.2l-5.2 -5.2zM354.9 225.4l5.2 5.2l-5.2 5.2l-5.2 -5.2zM356.6 221.2l5.2 5.2l-5.2 5.2l-5.2 -5.2zM358.4 218.7l5.2 5.2l-5.2 5.2l-5.2 -5.2zM360.2 222.1l5.2 5.2l-5.2 5.2l-5.2 -5.2zM362.0 218.0l5.2 5.2l-5.2 5.2l-5.2 -5.2zM363.7 214.0l5.2 5.2l-5.2 5.2l-5.2 -5.2zM365.5 214.4l5.2 5.2l-5.2 5.2l-5.2 -5.2zM367.3 209.7l5.2 5.2l-5.2 5.2l-5.2 -5.2zM369.0 212.1l5.2 5.2l-5.2 5.2l-5.2 -5.2zM370.8 215.1l5.2 5.2l-5.2 5.2l-5.2 -5.2zM372.6 214.9l5.2 5.2l-5.2 5.2l-5.2 -5.2zM374.4 214.5l5.2 5.2l-5.2 5.2l-5.2 -5.2zM376.1 209.6l5.2 5.2l-5.2 5.2l-5.2 -5.2zM377.9 207.7l5.2 5.2l-5.2 5.2l-5.2 -5.2zM379.7 204.1l5.2 5.2l-5.2 5.2l-5.2 -5.2zM381.5 206.3l5.2 5.2l-5.2 5.2l-5.2 -5.2zM383.2 206.0l5.2 5.2l-5.2 5.2l-5.2 -5.2zM385.0 208.4l5.2 5.2l-5.2 5.2l-5.2 -5.2zM386.8 206.7l5.2 5.2l-5.2 5.2l-5.2 -5.2zM388.6 207.0l5.2 5.2l-5.2 5.2l-5.2 -5.2zM390.3 207.9l5.2 5.2l-5.2 5.2l-5.2 -5.2zM392.1 205.3l5.2 5.2l-5.2 5.2l-5.2 -5.2zM393.9 201.4l5.2 5.2l-5.2 5.2l-5.2 -5.2zM395.6 198.3l5.2 5.2l-5.2 5.2l-5.2 -5.2zM397.4 195.8l5.2 5.2l-5.2 5.2l-5.2 -5.2zM399.2 193.7l5.2 5.2l-5.2 5.2l-5.2 -5.2zM401.0 189.2l5.2 5.2l-5.2 5.2l-5.2 -5.2zM402.7 189.3l5.2 5.2l-5.2 5.2l-5.2 -5.2zM404.5 186.8l5.2 5.2l-5.2 5.2l-5.2 -5.2zM406.3 184.1l5.2 5.2l-5.2 5.2l-5.2 -5.2zM408.1 187.2l5.2 5.2l-5.2 5.2l-5.2 -5.2zM409.8 191.6l5.2 5.2l-5.2 5.2l-5.2 -5.2zM411.6 194.4l5.2 5.2l-5.2 5.2l-5.2 -5.2zM413.4 199.6l5.2 5.2l-5.2 5.2l-5.2 -5.2zM415.2 203.8l5.2 5.2l-5.2 5.2l-5.2 -5.2zM416.9 198.5l5.2 5.2l-5.2 5.2l-5.2 -5.2zM418.7 193.8l5.2 5.2l-5.2 5.2l-5.2 -5.2zM420.5 188.2l5.2 5.2l-5.2 5.2l-5.2 -5.2zM422.2 184.0l5.2 5.2l-5.2 5.2l-5.2 -5.2zM424.0 177.5l5.2 5.2l-5.2 5.2l-5.2 -5.2zM425.8 173.9l5.2 5.2l-5.2 5.2l-5.2 -5.2zM427.6 172.4l5.2 5.2l-5.2 5.2l-5.2 -5.2zM429.3 173.1l5.2 5.2l-5.2 5.2l-5.2 -5.2zM431.1 174.0l5.2 5.2l-5.2 5.2l-5.2 -5.2zM432.9 175.9l5.2 5.2l-5.2 5.2l-5.2 -5.2zM434.7 173.3l5.2 5.2l-5.2 5.2l-5.2 -5.2zM436.4 168.9l5.2 5.2l-5.2 5.2l-5.2 -5.2zM438.2 162.8l5.2 5.2l-5.2 5.2l-5.2 -5.2zM440.0 159.6l5.2 5.2l-5.2 5.2l-5.2 -5.2zM441.7 156.2l5.2 5.2l-5.2 5.2l-5.2 -5.2zM443.5 148.0l5.2 5.2l-5.2 5.2l-5.2 -5.2zM445.3 148.4l5.2 5.2l-5.2 5.2l-5.2 -5.2zM447.1 147.4l5.2 5.2l-5.2 5.2l-5.2 -5.2zM448.8 144.3l5.2 5.2l-5.2 5.2l-5.2 -5.2zM450.6 143.3l5.2 5.2l-5.2 5.2l-5.2 -5.2zM452.4 140.0l5.2 5.2l-5.2 5.2l-5.2 -5.2zM454.2 136.6l5.2 5.2l-5.2 5.2l-5.2 -5.2zM455.9 141.3l5.2 5.2l-5.2 5.2l-5.2 -5.2zM457.7 137.1l5.2 5.2l-5.2 5.2l-5.2 -5.2zM459.5 140.8l5.2 5.2l-5.2 5.2l-5.2 -5.2zM461.3 142.3l5.2 5.2l-5.2 5.2l-5.2 -5.2zM463.0 137.4l5.2 5.2l-5.2 5.2l-5.2 -5.2zM464.8 137.5l5.2 5.2l-5.2 5.2l-5.2 -5.2zM466.6 142.1l5.2 5.2l-5.2 5.2l-5.2 -5.2zM468.3 140.2l5.2 5.2l-5.2 5.2l-5.2 -5.2zM470.1 135.5l5.2 5.2l-5.2 5.2l-5.2 -5.2zM471.9 135.3l5.2 5.2l-5.2 5.2l-5.2 -5.2zM473.7 135.8l5.2 5.2l-5.2 5.2l-5.2 -5.2zM475.4 142.4l5.2 5.2l-5.2 5.2l-5.2 -5.2zM477.2 141.9l5.2 5.2l-5.2 5.2l-5.2 -5.2zM479.0 136.7l5.2 5.2l-5.2 5.2l-5.2 -5.2zM480.8 142.5l5.2 5.2l-5.2 5.2l-5.2 -5.2zM482.5 143.5l5.2 5.2l-5.2 5.2l-5.2 -5.2zM484.3 140.6l5.2 5.2l-5.2 5.2l-5.2 -5.2zM486.1 137.8l5.2 5.2l-5.2 5.2l-5.2 -5.2zM487.9 139.3l5.2 5.2l-5.2 5.2l-5.2 -5.2zM489.6 136.8l5.2 5.2l-5.2 5.2l-5.2 -5.2zM491.4 137.8l5.2 5.2l-5.2 5.2l-5.2 -5.2zM493.2 147.1l5.2 5.2l-5.2 5.2l-5.2 -5.2zM494.9 147.6l5.2 5.2l-5.2 5.2l-5.2 -5.2zM496.7 146.0l5.2 5.2l-5.2 5.2l-5.2 -5.2zM498.5 147.6l5.2 5.2l-5.2 5.2l-5.2 -5.2zM500.3 144.4l5.2 5.2l-5.2 5.2l-5.2 -5.2zM502.0 146.5l5.2 5.2l-5.2 5.2l-5.2 -5.2zM503.8 147.3l5.2 5.2l-5.2 5.2l-5.2 -5.2zM505.6 145.4l5.2 5.2l-5.2 5.2l-5.2 -5.2zM507.4 147.2l5.2 5.2l-5.2 5.2l-5.2 -5.2zM509.1 148.9l5.2 5.2l-5.2 5.2l-5.2 -5.2zM510.9 149.9l5.2 5.2l-5.2 5.2l-5.2 -5.2zM512.7 153.2l5.2 5.2l-5.2 5.2l-5.2 -5.2zM514.5 152.7l5.2 5.2l-5.2 5.2l-5.2 -5.2zM516.2 155.6l5.2 5.2l-5.2 5.2l-5.2 -5.2zM518.0 156.6l5.2 5.2l-5.2 5.2l-5.2 -5.2zM519.8 163.6l5.2 5.2l-5.2 5.2l-5.2 -5.2zM521.5 161.5l5.2 5.2l-5.2 5.2l-5.2 -5.2zM523.3 161.0l5.2 5.2l-5.2 5.2l-5.2 -5.2zM525.1 160.4l5.2 5.2l-5.2 5.2l-5.2 -5.2zM526.9 160.7l5.2 5.2l-5.2 5.2l-5.2 -5.2zM528.6 167.5l5.2 5.2l-5.2 5.2l-5.2 -5.2zM530.4 177.3l5.2 5.2l-5.2 5.2l-5.2 -5.2zM532.2 181.8l5.2 5.2l-5.2 5.2l-5.2 -5.2zM534.0 187.5l5.2 5.2l-5.2 5.2l-5.2 -5.2zM535.7 187.7l5.2 5.2l-5.2 5.2l-5.2 -5.2zM537.5 185.2l5.2 5.2l-5.2 5.2l-5.2 -5.2zM539.3 188.9l5.2 5.2l-5.2 5.2l-5.2 -5.2zM541.1 192.9l5.2 5.2l-5.2 5.2l-5.2 -5.2zM542.8 194.2l5.2 5.2l-5.2 5.2l-5.2 -5.2zM544.6 199.6l5.2 5.2l-5.2 5.2l-5.2 -5.2zM546.4 197.1l5.2 5.2l-5.2 5.2l-5.2 -5.2zM548.1 199.7l5.2 5.2l-5.2 5.2l-5.2 -5.2zM549.9 202.3l5.2 5.2l-5.2 5.2l-5.2 -5.2zM551.7 202.5l5.2 5.2l-5.2 5.2l-5.2 -5.2zM553.5 202.4l5.2 5.2l-5.2 5.2l-5.2 -5.2zM555.2 204.9l5.2 5.2l-5.2 5.2l-5.2 -5.2zM557.0 207.8l5.2 5.2l-5.2 5.2l-5.2 -5.2zM558.8 211.8l5.2 5.2l-5.2 5.2l-5.2 -5.2zM560.6 210.7l5.2 5.2l-5.2 5.2l-5.2 -5.2zM562.3 212.4l5.2 5.2l-5.2 5.2l-5.2 -5.2zM564.1 205.5l5.2 5.2l-5.2 5.2l-5.2 -5.2zM565.9 205.0l5.2 5.2l-5.2 5.2l-5.2 -5.2zM567.7 211.6l5.2 5.2l-5.2 5.2l-5.2 -5.2zM569.4 213.5l5.2 5.2l-5.2 5.2l-5.2 -5.2zM571.2 217.1l5.2 5.2l-5.2 5.2l-5.2 -5.2zM573.0 217.3l5.2 5.2l-5.2 5.2l-5.2 -5.2zM574.7 216.8l5.2 5.2l-5.2 5.2l-5.2 -5.2zM576.5 214.1l5.2 5.2l-5.2 5.2l-5.2 -5.2zM578.3 218.1l5.2 5.2l-5.2 5.2l-5.2 -5.2zM580.1 220.5l5.2 5.2l-5.2 5.2l-5.2 -5.2zM581.8 223.6l5.2 5.2l-5.2 5.2l-5.2 -5.2zM583.6 223.6l5.2 5.2l-5.2 5.2l-5.2 -5.2zM585.4 219.9l5.2 5.2l-5.2 5.2l-5.2 -5.2zM587.2 218.0l5.2 5.2l-5.2 5.2l-5.2 -5.2zM588.9 212.2l5.2 5.2l-5.2 5.2l-5.2 -5.2zM590.7 209.1l5.2 5.2l-5.2 5.2l-5.2 -5.2zM592.5 211.7l5.2 5.2l-5.2 5.2l-5.2 -5.2zM594.3 216.3l5.2 5.2l-5.2 5.2l-5.2 -5.2zM596.0 219.9l5.2 5.2l-5.2 5.2l-5.2 -5.2zM597.8 217.0l5.2 5.2l-5.2 5.2l-5.2 -5.2zM599.6 218.0l5.2 5.2l-5.2 5.2l-5.2 -5.2zM601.3 220.6l5.2 5.2l-5.2 5.2l-5.2 -5.2zM603.1 225.4l5.2 5.2l-5.2 5.2l-5.2 -5.2zM604.9 226.8l5.2 5.2l-5.2 5.2l-5.2 -5.2zM606.7 228.4l5.2 5.2l-5.2 5.2l-5.2 -5.2zM608.4 228.1l5.2 5.2l-5.2 5.2l-5.2 -5.2zM610.2 223.9l5.2 5.2l-5.2 5.2l-5.2 -5.2zM612.0 225.1l5.2 5.2l-5.2 5.2l-5.2 -5.2zM613.8 226.4l5.2 5.2l-5.2 5.2l-5.2 -5.2zM615.5 232.0l5.2 5.2l-5.2 5.2l-5.2 -5.2zM617.3 232.3l5.2 5.2l-5.2 5.2l-5.2 -5.2zM619.1 227.5l5.2 5.2l-5.2 5.2l-5.2 -5.2zM620.9 221.3l5.2 5.2l-5.2 5.2l-5.2 -5.2zM622.6 225.9l5.2 5.2l-5.2 5.2l-5.2 -5.2zM624.4 226.9l5.2 5.2l-5.2 5.2l-5.2 -5.2zM626.2 224.7l5.2 5.2l-5.2 5.2l-5.2 -5.2zM627.9 229.5l5.2 5.2l-5.2 5.2l-5.2 -5.2zM629.7 230.7l5.2 5.2l-5.2 5.2l-5.2 -5.2zM631.5 227.1l5.2 5.2l-5.2 5.2l-5.2 -5.2zM633.3 231.8l5.2 5.2l-5.2 5.2l-5.2 -5.2zM635.0 228.8l5.2 5.2l-5.2 5.2l-5.2 -5.2zM636.8 225.9l5.2 5.2l-5.2 5.2l-5.2 -5.2zM638.6 226.2l5.2 5.2l-5.2 5.2l-5.2 -5.2zM640.4 229.4l5.2 5.2l-5.2 5.2l-5.2 -5.2zM642.1 229.7l5.2 5.2l-5.2 5.2l-5.2 -5.2zM643.9 234.4l5.2 5.2l-5.2 5.2l-5.2 -5.2zM645.7 230.9l5.2 5.2l-5.2 5.2l-5.2 -5.2zM647.5 225.9l5.2 5.2l-5.2 5.2l-5.2 -5.2zM649.2 225.6l5.2 5.2l-5.2 5.2l-5.2 -5.2zM651.0 228.7l5.2 5.2l-5.2 5.2l-5.2 -5.2zM652.8 233.4l5.2 5.2l-5.2 5.2l-5.2 -5.2zM654.5 231.2l5.2 5.2l-5.2 5.2l-5.2 -5.2zM656.3 228.3l5.2 5.2l-5.2 5.2l-5.2 -5.2zM658.1 221.8l5.2 5.2l-5.2 5.2l-5.2 -5.2zM659.9 218.7l5.2 5.2l-5.2 5.2l-5.2 -5.2zM661.6 225.0l5.2 5.2l-5.2 5.2l-5.2 -5.2zM663.4 231.3l5.2 5.2l-5.2 5.2l-5.2 -5.2zM665.2 229.2l5.2 5.2l-5.2 5.2l-5.2 -5.2zM667.0 224.9l5.2 5.2l-5.2 5.2l-5.2 -5.2zM668.7 230.7l5.2 5.2l-5.2 5.2l-5.2 -5.2zM670.5 233.8l5.2 5.2l-5.2 5.2l-5.2 -5.2zM672.3 214.6l5.2 5.2l-5.2 5.2l-5.2 -5.2zM674.1 196.0l5.2 5.2l-5.2 5.2l-5.2 -5.2zM675.8 192.4l5.2 5.2l-5.2 5.2l-5.2 -5.2zM677.6 202.1l5.2 5.2l-5.2 5.2l-5.2 -5.2zM679.4 220.8l5.2 5.2l-5.2 5.2l-5.2 -5.2zM681.1 225.7l5.2 5.2l-5.2 5.2l-5.2 -5.2zM682.9 229.1l5.2 5.2l-5.2 5.2l-5.2 -5.2zM684.7 233.6l5.2 5.2l-5.2 5.2l-5.2 -5.2zM686.5 238.4l5.2 5.2l-5.2 5.2l-5.2 -5.2zM688.2 237.7l5.2 5.2l-5.2 5.2l-5.2 -5.2zM690.0 234.3l5.2 5.2l-5.2 5.2l-5.2 -5.2zM691.8 233.4l5.2 5.2l-5.2 5.2l-5.2 -5.2zM693.6 241.9l5.2 5.2l-5.2 5.2l-5.2 -5.2zM695.3 246.6l5.2 5.2l-5.2 5.2l-5.2 -5.2zM697.1 252.3l5.2 5.2l-5.2 5.2l-5.2 -5.2zM698.9 253.4l5.2 5.2l-5.2 5.2l-5.2 -5.2zM700.7 250.4l5.2 5.2l-5.2 5.2l-5.2 -5.2zM702.4 251.1l5.2 5.2l-5.2 5.2l-5.2 -5.2zM704.2 246.9l5.2 5.2l-5.2 5.2l-5.2 -5.2zM706.0 240.5l5.2 5.2l-5.2 5.2l-5.2 -5.2zM707.7 241.0l5.2 5.2l-5.2 5.2l-5.2 -5.2zM709.5 237.8l5.2 5.2l-5.2 5.2l-5.2 -5.2zM711.3 240.5l5.2 5.2l-5.2 5.2l-5.2 -5.2zM713.1 238.2l5.2 5.2l-5.2 5.2l-5.2 -5.2zM714.8 239.9l5.2 5.2l-5.2 5.2l-5.2 -5.2zM716.6 232.1l5.2 5.2l-5.2 5.2l-5.2 -5.2zM718.4 233.2l5.2 5.2l-5.2 5.2l-5.2 -5.2zM720.2 227.6l5.2 5.2l-5.2 5.2l-5.2 -5.2zM721.9 224.7l5.2 5.2l-5.2 5.2l-5.2 -5.2zM723.7 223.8l5.2 5.2l-5.2 5.2l-5.2 -5.2zM725.5 223.9l5.2 5.2l-5.2 5.2l-5.2 -5.2zM727.3 220.1l5.2 5.2l-5.2 5.2l-5.2 -5.2zM729.0 225.0l5.2 5.2l-5.2 5.2l-5.2 -5.2zM730.8 231.2l5.2 5.2l-5.2 5.2l-5.2 -5.2zM732.6 225.0l5.2 5.2l-5.2 5.2l-5.2 -5.2zM734.3 219.8l5.2 5.2l-5.2 5.2l-5.2 -5.2zM736.1 216.2l5.2 5.2l-5.2 5.2l-5.2 -5.2zM737.9 212.5l5.2 5.2l-5.2 5.2l-5.2 -5.2zM739.7 218.3l5.2 5.2l-5.2 5.2l-5.2 -5.2zM741.4 223.1l5.2 5.2l-5.2 5.2l-5.2 -5.2zM743.2 218.2l5.2 5.2l-5.2 5.2l-5.2 -5.2zM745.0 215.9l5.2 5.2l-5.2 5.2l-5.2 -5.2zM746.8 208.4l5.2 5.2l-5.2 5.2l-5.2 -5.2zM748.5 206.5l5.2 5.2l-5.2 5.2l-5.2 -5.2zM750.3 203.3l5.2 5.2l-5.2 5.2l-5.2 -5.2zM752.1 202.8l5.2 5.2l-5.2 5.2l-5.2 -5.2zM753.9 200.0l5.2 5.2l-5.2 5.2l-5.2 -5.2zM755.6 200.5l5.2 5.2l-5.2 5.2l-5.2 -5.2zM757.4 198.4l5.2 5.2l-5.2 5.2l-5.2 -5.2zM759.2 204.0l5.2 5.2l-5.2 5.2l-5.2 -5.2zM760.9 204.9l5.2 5.2l-5.2 5.2l-5.2 -5.2zM762.7 204.9l5.2 5.2l-5.2 5.2l-5.2 -5.2zM764.5 208.5l5.2 5.2l-5.2 5.2l-5.2 -5.2zM766.3 211.9l5.2 5.2l-5.2 5.2l-5.2 -5.2zM768.0 205.7l5.2 5.2l-5.2 5.2l-5.2 -5.2zM769.8 208.2l5.2 5.2l-5.2 5.2l-5.2 -5.2zM771.6 207.2l5.2 5.2l-5.2 5.2l-5.2 -5.2zM773.4 209.8l5.2 5.2l-5.2 5.2l-5.2 -5.2zM775.1 216.8l5.2 5.2l-5.2 5.2l-5.2 -5.2zM776.9 217.6l5.2 5.2l-5.2 5.2l-5.2 -5.2zM778.7 220.8l5.2 5.2l-5.2 5.2l-5.2 -5.2zM780.5 224.4l5.2 5.2l-5.2 5.2l-5.2 -5.2zM782.2 224.9l5.2 5.2l-5.2 5.2l-5.2 -5.2zM784.0 218.5l5.2 5.2l-5.2 5.2l-5.2 -5.2zM785.8 218.4l5.2 5.2l-5.2 5.2l-5.2 -5.2zM787.5 218.2l5.2 5.2l-5.2 5.2l-5.2 -5.2zM789.3 222.0l5.2 5.2l-5.2 5.2l-5.2 -5.2zM791.1 224.6l5.2 5.2l-5.2 5.2l-5.2 -5.2zM792.9 222.3l5.2 5.2l-5.2 5.2l-5.2 -5.2zM794.6 218.7l5.2 5.2l-5.2 5.2l-5.2 -5.2zM796.4 217.9l5.2 5.2l-5.2 5.2l-5.2 -5.2zM798.2 216.6l5.2 5.2l-5.2 5.2l-5.2 -5.2zM800.0 216.9l5.2 5.2l-5.2 5.2l-5.2 -5.2zM801.7 208.8l5.2 5.2l-5.2 5.2l-5.2 -5.2zM803.5 203.5l5.2 5.2l-5.2 5.2l-5.2 -5.2zM805.3 207.6l5.2 5.2l-5.2 5.2l-5.2 -5.2zM807.0 215.7l5.2 5.2l-5.2 5.2l-5.2 -5.2zM808.8 219.1l5.2 5.2l-5.2 5.2l-5.2 -5.2zM810.6 216.2l5.2 5.2l-5.2 5.2l-5.2 -5.2zM812.4 211.7l5.2 5.2l-5.2 5.2l-5.2 -5.2zM814.1 209.2l5.2 5.2l-5.2 5.2l-5.2 -5.2zM815.9 207.9l5.2 5.2l-5.2 5.2l-5.2 -5.2zM817.7 207.2l5.2 5.2l-5.2 5.2l-5.2 -5.2zM819.5 205.3l5.2 5.2l-5.2 5.2l-5.2 -5.2zM821.2 210.8l5.2 5.2l-5.2 5.2l-5.2 -5.2zM823.0 214.1l5.2 5.2l-5.2 5.2l-5.2 -5.2zM824.8 222.4l5.2 5.2l-5.2 5.2l-5.2 -5.2zM826.6 224.3l5.2 5.2l-5.2 5.2l-5.2 -5.2zM828.3 223.8l5.2 5.2l-5.2 5.2l-5.2 -5.2zM830.1 223.9l5.2 5.2l-5.2 5.2l-5.2 -5.2zM831.9 229.6l5.2 5.2l-5.2 5.2l-5.2 -5.2zM833.6 227.6l5.2 5.2l-5.2 5.2l-5.2 -5.2zM835.4 227.6l5.2 5.2l-5.2 5.2l-5.2 -5.2zM837.2 222.9l5.2 5.2l-5.2 5.2l-5.2 -5.2zM839.0 222.8l5.2 5.2l-5.2 5.2l-5.2 -5.2zM840.7 221.9l5.2 5.2l-5.2 5.2l-5.2 -5.2zM842.5 220.7l5.2 5.2l-5.2 5.2l-5.2 -5.2zM844.3 219.5l5.2 5.2l-5.2 5.2l-5.2 -5.2zM846.1 221.6l5.2 5.2l-5.2 5.2l-5.2 -5.2zM847.8 218.7l5.2 5.2l-5.2 5.2l-5.2 -5.2zM849.6 219.4l5.2 5.2l-5.2 5.2l-5.2 -5.2zM851.4 217.7l5.2 5.2l-5.2 5.2l-5.2 -5.2zM853.2 209.2l5.2 5.2l-5.2 5.2l-5.2 -5.2zM854.9 200.0l5.2 5.2l-5.2 5.2l-5.2 -5.2zM856.7 198.0l5.2 5.2l-5.2 5.2l-5.2 -5.2zM858.5 197.8l5.2 5.2l-5.2 5.2l-5.2 -5.2zM860.2 195.8l5.2 5.2l-5.2 5.2l-5.2 -5.2zM862.0 196.5l5.2 5.2l-5.2 5.2l-5.2 -5.2zM863.8 195.6l5.2 5.2l-5.2 5.2l-5.2 -5.2zM865.6 196.3l5.2 5.2l-5.2 5.2l-5.2 -5.2zM867.3 195.4l5.2 5.2l-5.2 5.2l-5.2 -5.2zM869.1 195.4l5.2 5.2l-5.2 5.2l-5.2 -5.2zM870.9 193.1l5.2 5.2l-5.2 5.2l-5.2 -5.2zM872.7 184.4l5.2 5.2l-5.2 5.2l-5.2 -5.2zM874.4 178.8l5.2 5.2l-5.2 5.2l-5.2 -5.2zM876.2 178.0l5.2 5.2l-5.2 5.2l-5.2 -5.2zM878.0 169.0l5.2 5.2l-5.2 5.2l-5.2 -5.2zM879.8 167.3l5.2 5.2l-5.2 5.2l-5.2 -5.2zM881.5 161.2l5.2 5.2l-5.2 5.2l-5.2 -5.2zM883.3 152.2l5.2 5.2l-5.2 5.2l-5.2 -5.2zM885.1 150.5l5.2 5.2l-5.2 5.2l-5.2 -5.2zM886.8 144.6l5.2 5.2l-5.2 5.2l-5.2 -5.2zM888.6 138.1l5.2 5.2l-5.2 5.2l-5.2 -5.2zM890.4 136.1l5.2 5.2l-5.2 5.2l-5.2 -5.2zM892.2 133.9l5.2 5.2l-5.2 5.2l-5.2 -5.2zM893.9 127.5l5.2 5.2l-5.2 5.2l-5.2 -5.2zM895.7 125.9l5.2 5.2l-5.2 5.2l-5.2 -5.2zM897.5 121.2l5.2 5.2l-5.2 5.2l-5.2 -5.2zM899.3 118.4l5.2 5.2l-5.2 5.2l-5.2 -5.2zM901.0 115.5l5.2 5.2l-5.2 5.2l-5.2 -5.2zM902.8 115.6l5.2 5.2l-5.2 5.2l-5.2 -5.2zM904.6 114.3l5.2 5.2l-5.2 5.2l-5.2 -5.2zM906.4 115.4l5.2 5.2l-5.2 5.2l-5.2 -5.2zM908.1 111.0l5.2 5.2l-5.2 5.2l-5.2 -5.2zM909.9 107.9l5.2 5.2l-5.2 5.2l-5.2 -5.2zM911.7 102.2l5.2 5.2l-5.2 5.2l-5.2 -5.2zM913.4 98.4l5.2 5.2l-5.2 5.2l-5.2 -5.2zM915.2 96.2l5.2 5.2l-5.2 5.2l-5.2 -5.2zM917.0 97.0l5.2 5.2l-5.2 5.2l-5.2 -5.2zM918.8 96.8l5.2 5.2l-5.2 5.2l-5.2 -5.2zM920.5 102.1l5.2 5.2l-5.2 5.2l-5.2 -5.2zM922.3 101.9l5.2 5.2l-5.2 5.2l-5.2 -5.2zM924.1 103.5l5.2 5.2l-5.2 5.2l-5.2 -5.2zM925.9 104.6l5.2 5.2l-5.2 5.2l-5.2 -5.2zM927.5 105.8l5.2 5.2l-5.2 5.2l-5.2 -5.2z" fill="#ff0000" shape-rendering="crispEdges"/>
<rect x="76" y="145" width="851" height="4" fill="#666699" shape-rendering="crispEdges"/>
<g font-family="Liberation Sans, sans-serif" fill="#000">
<text x="41.699999999999996" y="52.2" font-size="11.75" text-anchor="start" font-weight="normal" textLength="29.6" lengthAdjust="spacingAndGlyphs">60.08</text>
<text x="41.699999999999996" y="85.0" font-size="11.75" text-anchor="start" font-weight="normal" textLength="29.6" lengthAdjust="spacingAndGlyphs">60.06</text>
<text x="41.699999999999996" y="117.7" font-size="11.75" text-anchor="start" font-weight="normal" textLength="29.6" lengthAdjust="spacingAndGlyphs">60.04</text>
<text x="41.699999999999996" y="150.4" font-size="11.75" text-anchor="start" font-weight="normal" textLength="29.6" lengthAdjust="spacingAndGlyphs">60.02</text>
<text x="58.199999999999996" y="183.2" font-size="11.75" text-anchor="start" font-weight="normal" textLength="13.1" lengthAdjust="spacingAndGlyphs">60</text>
<text x="41.699999999999996" y="215.9" font-size="11.75" text-anchor="start" font-weight="normal" textLength="29.6" lengthAdjust="spacingAndGlyphs">59.98</text>
<text x="41.699999999999996" y="248.6" font-size="11.75" text-anchor="start" font-weight="normal" textLength="29.6" lengthAdjust="spacingAndGlyphs">59.96</text>
<text x="41.699999999999996" y="281.4" font-size="11.75" text-anchor="start" font-weight="normal" textLength="29.6" lengthAdjust="spacingAndGlyphs">59.94</text>
<text x="41.699999999999996" y="314.1" font-size="11.75" text-anchor="start" font-weight="normal" textLength="29.6" lengthAdjust="spacingAndGlyphs">59.92</text>
<text x="48.3" y="346.8" font-size="11.75" text-anchor="start" font-weight="normal" textLength="23.0" lengthAdjust="spacingAndGlyphs">59.9</text>
<text x="41.699999999999996" y="379.5" font-size="11.75" text-anchor="start" font-weight="normal" textLength="29.6" lengthAdjust="spacingAndGlyphs">59.88</text>
<text x="41.699999999999996" y="412.3" font-size="11.75" text-anchor="start" font-weight="normal" textLength="29.6" lengthAdjust="spacingAndGlyphs">59.86</text>
<text x="41.699999999999996" y="445.0" font-size="11.75" text-anchor="start" font-weight="normal" textLength="29.6" lengthAdjust="spacingAndGlyphs">59.84</text>
<text x="41.699999999999996" y="477.7" font-size="11.75" text-anchor="start" font-weight="normal" textLength="29.6" lengthAdjust="spacingAndGlyphs">59.82</text>
<text x="48.3" y="510.5" font-size="11.75" text-anchor="start" font-weight="normal" textLength="23.0" lengthAdjust="spacingAndGlyphs">59.8</text>
<text x="41.699999999999996" y="543.2" font-size="11.75" text-anchor="start" font-weight="normal" textLength="29.6" lengthAdjust="spacingAndGlyphs">59.78</text>
<text x="41.699999999999996" y="575.9" font-size="11.75" text-anchor="start" font-weight="normal" textLength="29.6" lengthAdjust="spacingAndGlyphs">59.76</text>
<text x="41.699999999999996" y="608.7" font-size="11.75" text-anchor="start" font-weight="normal" textLength="29.6" lengthAdjust="spacingAndGlyphs">59.74</text>
<text x="41.699999999999996" y="641.4" font-size="11.75" text-anchor="start" font-weight="normal" textLength="29.6" lengthAdjust="spacingAndGlyphs">59.72</text>
<text x="937.4" y="52.2" font-size="11.75" text-anchor="start" font-weight="normal" textLength="23.6" lengthAdjust="spacingAndGlyphs">12.0</text>
<text x="937.4" y="150.4" font-size="11.75" text-anchor="start" font-weight="normal" textLength="23.6" lengthAdjust="spacingAndGlyphs">10.0</text>
<text x="937.4" y="248.6" font-size="11.75" text-anchor="start" font-weight="normal" textLength="16.9" lengthAdjust="spacingAndGlyphs">8.0</text>
<text x="937.4" y="346.8" font-size="11.75" text-anchor="start" font-weight="normal" textLength="16.9" lengthAdjust="spacingAndGlyphs">6.0</text>
<text x="937.4" y="445.0" font-size="11.75" text-anchor="start" font-weight="normal" textLength="16.9" lengthAdjust="spacingAndGlyphs">4.0</text>
<text x="937.4" y="543.2" font-size="11.75" text-anchor="start" font-weight="normal" textLength="16.9" lengthAdjust="spacingAndGlyphs">2.0</text>
<text x="937.4" y="641.4" font-size="11.75" text-anchor="start" font-weight="normal" textLength="16.9" lengthAdjust="spacingAndGlyphs">0.0</text>
<text transform="translate(77.5,649.5) rotate(-45)" font-size="11.75" text-anchor="end">2:26:23</text>
<text transform="translate(97.0,649.5) rotate(-45)" font-size="11.75" text-anchor="end">2:26:45</text>
<text transform="translate(116.5,649.5) rotate(-45)" font-size="11.75" text-anchor="end">2:27:07</text>
<text transform="translate(136.0,649.5) rotate(-45)" font-size="11.75" text-anchor="end">2:27:29</text>
<text transform="translate(155.5,649.5) rotate(-45)" font-size="11.75" text-anchor="end">2:27:51</text>
<text transform="translate(175.0,649.5) rotate(-45)" font-size="11.75" text-anchor="end">2:28:13</text>
<text transform="translate(194.5,649.5) rotate(-45)" font-size="11.75" text-anchor="end">2:28:35</text>
<text transform="translate(214.0,649.5) rotate(-45)" font-size="11.75" text-anchor="end">2:28:57</text>
<text transform="translate(233.6,649.5) rotate(-45)" font-size="11.75" text-anchor="end">2:29:19</text>
<text transform="translate(253.1,649.5) rotate(-45)" font-size="11.75" text-anchor="end">2:29:41</text>
<text transform="translate(272.6,649.5) rotate(-45)" font-size="11.75" text-anchor="end">2:30:03</text>
<text transform="translate(292.1,649.5) rotate(-45)" font-size="11.75" text-anchor="end">2:30:25</text>
<text transform="translate(311.6,649.5) rotate(-45)" font-size="11.75" text-anchor="end">2:30:47</text>
<text transform="translate(331.1,649.5) rotate(-45)" font-size="11.75" text-anchor="end">2:31:09</text>
<text transform="translate(350.6,649.5) rotate(-45)" font-size="11.75" text-anchor="end">2:31:31</text>
<text transform="translate(370.1,649.5) rotate(-45)" font-size="11.75" text-anchor="end">2:31:53</text>
<text transform="translate(389.6,649.5) rotate(-45)" font-size="11.75" text-anchor="end">2:32:15</text>
<text transform="translate(409.1,649.5) rotate(-45)" font-size="11.75" text-anchor="end">2:32:37</text>
<text transform="translate(428.6,649.5) rotate(-45)" font-size="11.75" text-anchor="end">2:32:59</text>
<text transform="translate(448.1,649.5) rotate(-45)" font-size="11.75" text-anchor="end">2:33:21</text>
<text transform="translate(467.6,649.5) rotate(-45)" font-size="11.75" text-anchor="end">2:33:43</text>
<text transform="translate(487.1,649.5) rotate(-45)" font-size="11.75" text-anchor="end">2:34:05</text>
<text transform="translate(506.6,649.5) rotate(-45)" font-size="11.75" text-anchor="end">2:34:27</text>
<text transform="translate(526.1,649.5) rotate(-45)" font-size="11.75" text-anchor="end">2:34:49</text>
<text transform="translate(545.7,649.5) rotate(-45)" font-size="11.75" text-anchor="end">2:35:11</text>
<text transform="translate(565.2,649.5) rotate(-45)" font-size="11.75" text-anchor="end">2:35:33</text>
<text transform="translate(584.7,649.5) rotate(-45)" font-size="11.75" text-anchor="end">2:35:55</text>
<text transform="translate(604.2,649.5) rotate(-45)" font-size="11.75" text-anchor="end">2:36:17</text>
<text transform="translate(623.7,649.5) rotate(-45)" font-size="11.75" text-anchor="end">2:36:39</text>
<text transform="translate(643.2,649.5) rotate(-45)" font-size="11.75" text-anchor="end">2:37:01</text>
<text transform="translate(662.7,649.5) rotate(-45)" font-size="11.75" text-anchor="end">2:37:23</text>
<text transform="translate(682.2,649.5) rotate(-45)" font-size="11.75" text-anchor="end">2:37:45</text>
<text transform="translate(701.7,649.5) rotate(-45)" font-size="11.75" text-anchor="end">2:38:07</text>
<text transform="translate(721.2,649.5) rotate(-45)" font-size="11.75" text-anchor="end">2:38:29</text>
<text transform="translate(740.7,649.5) rotate(-45)" font-size="11.75" text-anchor="end">2:38:51</text>
<text transform="translate(760.2,649.5) rotate(-45)" font-size="11.75" text-anchor="end">2:39:13</text>
<text transform="translate(779.7,649.5) rotate(-45)" font-size="11.75" text-anchor="end">2:39:35</text>
<text transform="translate(799.2,649.5) rotate(-45)" font-size="11.75" text-anchor="end">2:39:57</text>
<text transform="translate(818.7,649.5) rotate(-45)" font-size="11.75" text-anchor="end">2:40:19</text>
<text transform="translate(838.2,649.5) rotate(-45)" font-size="11.75" text-anchor="end">2:40:41</text>
<text transform="translate(857.8,649.5) rotate(-45)" font-size="11.75" text-anchor="end">2:41:03</text>
<text transform="translate(877.3,649.5) rotate(-45)" font-size="11.75" text-anchor="end">2:41:25</text>
<text transform="translate(896.8,649.5) rotate(-45)" font-size="11.75" text-anchor="end">2:41:47</text>
<text transform="translate(916.3,649.5) rotate(-45)" font-size="11.75" text-anchor="end">2:42:09</text>
<text x="468.5" y="37.6" font-size="22.5" text-anchor="start" font-weight="bold" textLength="58" lengthAdjust="spacingAndGlyphs">MyBA</text>
<text x="54.1" y="41.5" font-size="12.4" text-anchor="start" font-weight="normal" textLength="163.8" lengthAdjust="spacingAndGlyphs">Monday, October 12, 2009</text>
<text x="782.3" y="14.1" font-size="12.4" text-anchor="start" font-weight="normal" textLength="67.9" lengthAdjust="spacingAndGlyphs">Transferred</text>
<text x="787.4" y="39.7" font-size="12.4" text-anchor="start" font-weight="normal" textLength="62.3" lengthAdjust="spacingAndGlyphs">Frequency</text>
<text x="787.4" y="59.7" font-size="12.4" text-anchor="start" font-weight="normal" textLength="57.6" lengthAdjust="spacingAndGlyphs">Response</text>
<text x="782.3" y="85.9" font-size="12.4" text-anchor="start" font-weight="normal" textLength="80.2" lengthAdjust="spacingAndGlyphs">Rec (-) Del (+)</text>
<text x="611.3" y="368.7" font-size="12.4" text-anchor="start" font-weight="normal" textLength="45.8" lengthAdjust="spacingAndGlyphs">A Value</text>
<text x="621.3" y="401.6" font-size="12.4" text-anchor="start" font-weight="normal" textLength="30.7" lengthAdjust="spacingAndGlyphs">-4.21</text>
<text x="726.7" y="368.7" font-size="12.4" text-anchor="start" font-weight="normal" textLength="44.5" lengthAdjust="spacingAndGlyphs">B Value</text>
<text x="741" y="398.8" font-size="12.4" text-anchor="start" font-weight="normal" textLength="34.5" lengthAdjust="spacingAndGlyphs">11.09</text>
<text x="795" y="368.7" font-size="12.4" text-anchor="start" font-weight="normal" textLength="90" lengthAdjust="spacingAndGlyphs">Average Period</text>
<text x="810.5" y="398.8" font-size="12.4" text-anchor="start" font-weight="normal" textLength="96.5" lengthAdjust="spacingAndGlyphs">20 to 52 second</text>
<text transform="translate(30.9,268.5) rotate(-90)" font-size="12.5" font-weight="bold" text-anchor="middle" textLength="79" lengthAdjust="spacingAndGlyphs">Frequency - Hz</text>
<text transform="translate(985.1,339.7) rotate(90)" font-size="15" text-anchor="middle" textLength="68.2" lengthAdjust="spacingAndGlyphs">MW/0.1 Hz</text>
<text x="424.3" y="694" font-size="11.2" text-anchor="start" font-weight="normal" textLength="12.7" lengthAdjust="spacingAndGlyphs">Hz</text>
<text x="486.3" y="694" font-size="11.2" text-anchor="start" font-weight="normal" textLength="107.7" lengthAdjust="spacingAndGlyphs">Frequency Response</text>
</g>
<rect x="390" y="688" width="30" height="4" fill="#ff0000" shape-rendering="crispEdges"/>
<path d="M405.5 686l4.5 4.5l-4.5 4.5l-4.5 -4.5z" fill="#ff0000" shape-rendering="crispEdges"/>
<rect x="452" y="688" width="30" height="4" fill="#666699" shape-rendering="crispEdges"/>
<path d="M0 0h995v1h-995z M0 0h1v718h-1z M994 0h1v717h-1z M0 717h994v1h-994z" fill="#808080" shape-rendering="crispEdges"/>
</svg>
</body></html>
